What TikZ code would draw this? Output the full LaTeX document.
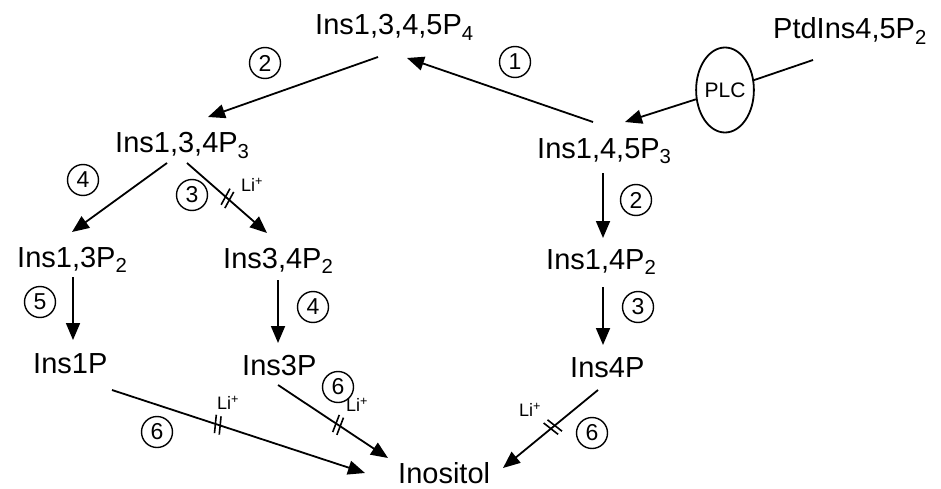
\documentclass[tikz,border=0pt]{standalone}
\usepackage{fontspec}
\setmainfont{Liberation Sans}
\usetikzlibrary{arrows.meta,decorations.markings,shapes.geometric}
\begin{document}
\begin{tikzpicture}[x=1pt,y=-1pt,
  lbl/.style={inner sep=0pt,anchor=base west,font=\fontsize{29}{31}\selectfont},
  num/.style={circle,draw,line width=1.4pt,minimum size=31pt,inner sep=0pt,font=\fontsize{23}{25}\selectfont},
  arr/.style={line width=1.8pt,-{Triangle[length=17pt,width=14pt]}},
  li/.style={inner sep=0pt,font=\fontsize{18}{20}\selectfont},
  hatch/.style={postaction={decorate},decoration={markings,mark=at position #1 with {\draw[-,line width=1.6pt] (-5,-9)--(-1,9); \draw[-,line width=1.6pt] (0,-9)--(4,9);}}}
]
\useasboundingbox (0,0) rectangle (941,489);
% nodes
\node[lbl] (p4) at (315,35) {Ins1,3,4,5P\textsubscript{4}};
\node[lbl] (ptd) at (773,39) {PtdIns4,5P\textsubscript{2}};
\node[lbl] (i145) at (537,158) {Ins1,4,5P\textsubscript{3}};
\node[lbl] (i134) at (115,153) {Ins1,3,4P\textsubscript{3}};
\node[lbl] (i13) at (17,267) {Ins1,3P\textsubscript{2}};
\node[lbl] (i34) at (223,268) {Ins3,4P\textsubscript{2}};
\node[lbl] (i14) at (546,269) {Ins1,4P\textsubscript{2}};
\node[lbl] (i1) at (33,373) {Ins1P};
\node[lbl] (i3) at (242,375) {Ins3P};
\node[lbl] (i4) at (570,377) {Ins4P};
\node[lbl] (ino) at (398,483) {Inositol};
\node[draw,ellipse,line width=1.8pt,minimum width=56pt,minimum height=85pt,inner sep=0pt,font=\fontsize{21}{23}\selectfont] (plc) at (725,90) {PLC};
% numbers
\node[num] (n2a) at (265,63) {2};
\node[num] (n1) at (515,62) {1};
\node[num] (n4a) at (83,180) {4};
\node[num] (n3a) at (192,195) {3};
\node[num] (n2b) at (636,200) {2};
\node[num] (n5) at (40,302) {5};
\node[num] (n4b) at (313,307) {4};
\node[num] (n3b) at (638,307) {3};
\node[num] (n6a) at (338,387) {6};
\node[num] (n6b) at (157,432) {6};
\node[num] (n6c) at (592,433) {6};
% coordinates for arrow ends
\coordinate (a1s) at (593,122); \coordinate (a1e) at (407,58);
\coordinate (a2s) at (378,57); \coordinate (a2e) at (208,117);
\coordinate (a3s) at (813,60); \coordinate (a3e) at (625,122);
\coordinate (a4s) at (167,163); \coordinate (a4e) at (72,232);
\coordinate (a5s) at (187,163); \coordinate (a5e) at (267,233);
\coordinate (a6s) at (603,173); \coordinate (a6e) at (603,238);
\coordinate (a7s) at (73,277); \coordinate (a7e) at (73,340);
\coordinate (a8s) at (278,280); \coordinate (a8e) at (278,343);
\coordinate (a9s) at (603,287); \coordinate (a9e) at (603,345);
\coordinate (a10s) at (112,390); \coordinate (a10e) at (365,473);
\coordinate (a11s) at (278,385); \coordinate (a11e) at (388,458);
\coordinate (a12s) at (598,390); \coordinate (a12e) at (503,468);
% arrows
\draw[arr] (a1s) -- (a1e);
\draw[arr] (a2s) -- (a2e);
\draw[line width=1.8pt] (a3s) -- (plc);
\draw[arr] (plc) -- (a3e);
\draw[arr] (a4s) -- (a4e);
\draw[arr,hatch=0.51] (a5s) -- (a5e);
\draw[arr] (a6s) -- (a6e);
\draw[arr] (a7s) -- (a7e);
\draw[arr] (a8s) -- (a8e);
\draw[arr] (a9s) -- (a9e);
\draw[arr,hatch=0.42] (a10s) -- (a10e);
\draw[arr,hatch=0.55] (a11s) -- (a11e);
\draw[arr,hatch=0.48] (a12s) -- (a12e);
% Li labels
\node[li] (li1) at (252,185) {Li\textsuperscript{+}};
\node[li] (li2) at (228,403) {Li\textsuperscript{+}};
\node[li] (li3) at (357,405) {Li\textsuperscript{+}};
\node[li] (li4) at (530,410) {Li\textsuperscript{+}};
\end{tikzpicture}
\end{document}
